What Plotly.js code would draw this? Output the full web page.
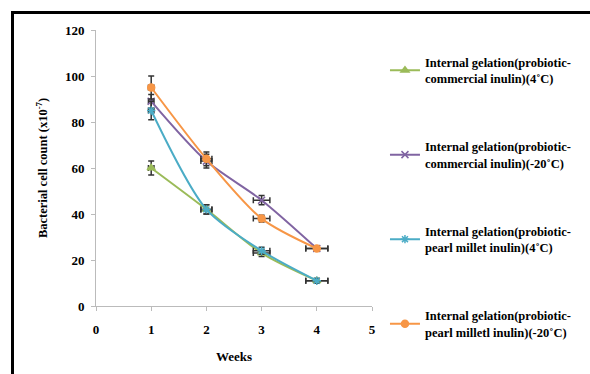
<!DOCTYPE html>
<html>
<head>
<meta charset="utf-8">
<script src="https://cdn.plot.ly/plotly-3.0.1.min.js"></script>
<style>
html,body{margin:0;padding:0;background:#fff;}
#wrap{position:relative;width:590px;height:374px;overflow:hidden;}
#chart{width:590px;height:374px;}
#frame{position:absolute;left:11px;top:11px;width:600px;height:400px;border-left:3px solid #000;border-top:3px solid #000;pointer-events:none;}
</style>
</head>
<body>
<div id="wrap"><div id="chart"></div><div id="frame"></div></div>
<script>
const weeks = [1, 2, 3, 4];
const seriesNames = [
  "Internal gelation(probiotic-<br>commercial inulin)(4˚C)",
  "Internal gelation(probiotic-<br>commercial inulin)(-20˚C)",
  "Internal gelation(probiotic-<br>pearl millet inulin)(4˚C)",
  "Internal gelation(probiotic-<br>pearl milletl inulin)(-20˚C)"
];
const commercial4 = [60, 42, 23, 11];
const commercial20 = [89, 63, 46, 25];
const millet4 = [85, 42, 24, 11];
const millet20 = [95, 64, 38, 25];
const yErr = [[3, 2, 1.5, 1], [3, 3, 2, 1], [4, 2, 1.5, 1], [5, 3, 1.5, 1]];
const xErr = [0.05, 0.1, 0.15, 0.2];
const colors = ["#9BBB59", "#8064A2", "#4BACC6", "#F79646"];
const symbols = ["triangle-up", "x-thin-open", "asterisk-open", "circle"];
const values = [commercial4, commercial20, millet4, millet20];

const traces = values.map((v, i) => ({
  x: weeks, y: v, type: "scatter", mode: "lines+markers",
  name: seriesNames[i], legendgroup: "g" + i,
  line: {color: colors[i], width: 2, shape: "spline", smoothing: 0.8},
  marker: {color: colors[i], symbol: symbols[i], size: 7, line: {color: colors[i], width: 1.5}},
  error_y: {type: "data", array: yErr[i], color: "#333", thickness: 1.5, width: 3},
  error_x: {type: "data", array: xErr, color: "#333", thickness: 1.5, width: 3}
}));

const fontTick = {family: "Liberation Serif", size: 13, color: "#000", weight: "bold"};
const layout = {
  width: 590, height: 374,
  margin: {l: 96, r: 218, t: 30, b: 68},
  paper_bgcolor: "#fff", plot_bgcolor: "#fff",
  showlegend: true,
  legend: {x: 1.047, xanchor: "left", y: 0.937, yanchor: "top", maxheight: 800,
    font: {family: "Liberation Serif", size: 12.5, color: "#000", weight: "bold"},
    traceorder: "grouped", tracegroupgap: 49, itemwidth: 30, valign: "middle"},
  xaxis: {range: [0, 5], dtick: 1, tick0: 0, showgrid: false, zeroline: false,
    showline: true, linecolor: "#bbb", linewidth: 1, ticks: "outside", ticklen: 4, tickcolor: "#bbb",
    tickfont: fontTick, ticklabelstandoff: 7,
    title: {text: "Weeks", font: {family: "Liberation Serif", size: 13, color: "#000", weight: "bold"}, standoff: 16}},
  yaxis: {range: [0, 120], dtick: 20, showgrid: false, zeroline: false,
    showline: true, linecolor: "#bbb", linewidth: 1, ticks: "outside", ticklen: 4, tickcolor: "#bbb",
    tickfont: fontTick, ticklabelstandoff: 4,
    title: {text: "Bacterial cell count (x10<sup>-7</sup>)", font: {family: "Liberation Serif", size: 12.5, color: "#000", weight: "bold"}, standoff: 14}}
};
Plotly.newPlot("chart", traces, layout, {displayModeBar: false, staticPlot: true});
</script>
</body>
</html>
